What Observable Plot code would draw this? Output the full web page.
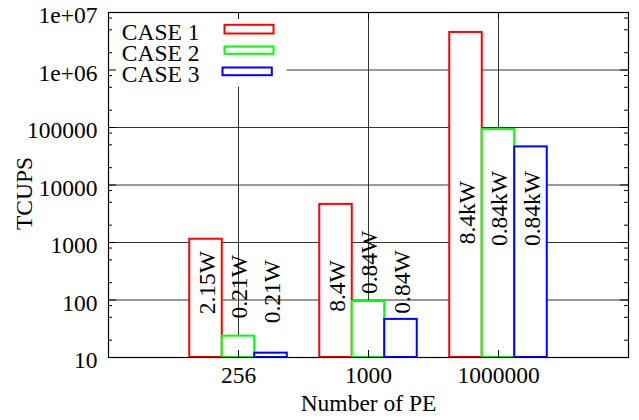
<!DOCTYPE html>
<html>
<head>
<meta charset="utf-8">
<script src="https://cdn.jsdelivr.net/npm/d3@7"></script>
<script src="https://cdn.jsdelivr.net/npm/@observablehq/plot@0.6"></script>
<style>
  html, body { margin: 0; padding: 0; background: #fff; }
</style>
</head>
<body>
<div id="chart"></div>
<script>
// ---- data ----
const categories = ["256", "1000", "1000000"];
const seriesNames = ["CASE 1", "CASE 2", "CASE 3"];
const case1 = [1140, 4600, 4500000];
const case2 = [23.5, 94, 92000];
const case3 = [11.9, 46, 46000];
const labels1 = ["2.15W", "8.4W", "8.4kW"];
const labels2 = ["0.21W", "0.84W", "0.84kW"];
const labels3 = ["0.21W", "0.84W", "0.84kW"];
// vertical centre of each rotated label, in TCUPS units
const labelY1 = [200, 175, 3300];
const labelY2 = [170, 450, 3900];
const labelY3 = [140, 205, 3900];
const yTicks = [10, 100, 1000, 10000, 100000, 1000000, 10000000];
const yTickLabels = ["10", "100", "1000", "10000", "100000", "1e+06", "1e+07"];
const minorMultipliers = [2, 5, 8];
const colors = ["#ff0000", "#00ff00", "#0000ff"];

// ---- build table ----
const seriesValues = [case1, case2, case3];
const seriesLabels = [labels1, labels2, labels3];
const seriesLabelY = [labelY1, labelY2, labelY3];
const rows = [];
seriesValues.forEach((vals, s) => {
  vals.forEach((v, i) => {
    rows.push({
      s, i, value: v, label: seriesLabels[s][i], labelY: seriesLabelY[s][i],
      x1: i - 0.375 + s * 0.25, x2: i - 0.125 + s * 0.25
    });
  });
});
const minorTicks = yTicks.slice(0, -1).flatMap(d => minorMultipliers.map(m => d * m));

const W = 639, H = 420;
const mL = 108, mR = 11, mT = 12, mB = 63;
const fw = W - mL - mR, fh = H - mT - mB;
const font = "'Liberation Serif', 'Times New Roman', Times, serif";
const FS = 23.5;

const legendMarks = [];
// legend white background
legendMarks.push(Plot.frame({fill: "white", stroke: null, insetRight: 342, insetBottom: 271}));
const swatches = [
  {insetLeft: 116, insetRight: 355, insetTop: 12.3, insetBottom: 324},
  {insetLeft: 116, insetRight: 355, insetTop: 34, insetBottom: 303.7},
  {insetLeft: 114, insetRight: 356.7, insetTop: 55, insetBottom: 282.3}
];
const baselines = [27, 48, 69];
seriesNames.forEach((name, s) => {
  legendMarks.push(Plot.frame({...swatches[s], stroke: colors[s], strokeWidth: 2, fill: "none"}));
  legendMarks.push(Plot.text([name], {frameAnchor: "top-left", dx: 91, dy: baselines[s], textAnchor: "end",
    lineAnchor: "bottom", fill: "black", fontSize: FS}));
});

const chart = Plot.plot({
  width: W, height: H,
  marginLeft: mL, marginRight: mR, marginTop: mT, marginBottom: mB,
  style: {fontFamily: font, fontSize: FS + "px", background: "white", color: "black", overflow: "visible"},
  x: {type: "linear", domain: [-1, 3], axis: null},
  y: {type: "log", domain: [10, 10000000], axis: null},
  marks: [
    // grid
    Plot.ruleY(yTicks, {stroke: "#333", strokeWidth: 1}),
    Plot.ruleX([0, 1, 2], {stroke: "#333", strokeWidth: 1}),
    // bars
    Plot.rect(rows, {x1: "x1", x2: "x2", y1: () => 10, y2: "value", fill: "white",
      stroke: d => colors[d.s], strokeWidth: 2}),
    // bar labels
    Plot.text(rows, {x: d => (d.x1 + d.x2) / 2, y: "labelY", text: "label", rotate: -90,
      textAnchor: "middle", lineAnchor: "middle", dx: 1, fill: "black", fontSize: FS}),
    // legend
    ...legendMarks,
    // frame
    Plot.frame({stroke: "black", strokeWidth: 1.2}),
    // ticks (inward)
    Plot.ruleY(yTicks, {stroke: "black", insetRight: fw - 8}),
    Plot.ruleY(yTicks, {stroke: "black", insetLeft: fw - 8}),
    Plot.ruleY(minorTicks, {stroke: "black", insetRight: fw - 4}),
    Plot.ruleY(minorTicks, {stroke: "black", insetLeft: fw - 4}),
    Plot.ruleX([0, 1, 2], {stroke: "black", insetTop: fh - 7}),
    Plot.ruleX([0, 1, 2], {stroke: "black", insetBottom: fh - 7}),
    // axes
    Plot.axisY({ticks: yTicks, tickFormat: (d) => yTickLabels[yTicks.indexOf(d)], tickSize: 0,
      tickPadding: 11, dy: 3, label: null, fontSize: FS}),
    Plot.axisX({ticks: [0, 1, 2], tickFormat: d => categories[d], tickSize: 0, tickPadding: 9,
      label: null, fontSize: FS}),
    Plot.text(["TCUPS"], {frameAnchor: "left", rotate: -90, dx: -84, dy: 8.5,
      textAnchor: "middle", lineAnchor: "middle", fill: "black", fontSize: FS}),
    Plot.text(["Number of PE"], {frameAnchor: "bottom", dy: 53, lineAnchor: "bottom",
      textAnchor: "middle", fill: "black", fontSize: FS})
  ]
});
document.getElementById("chart").appendChild(chart);
</script>
</body>
</html>
